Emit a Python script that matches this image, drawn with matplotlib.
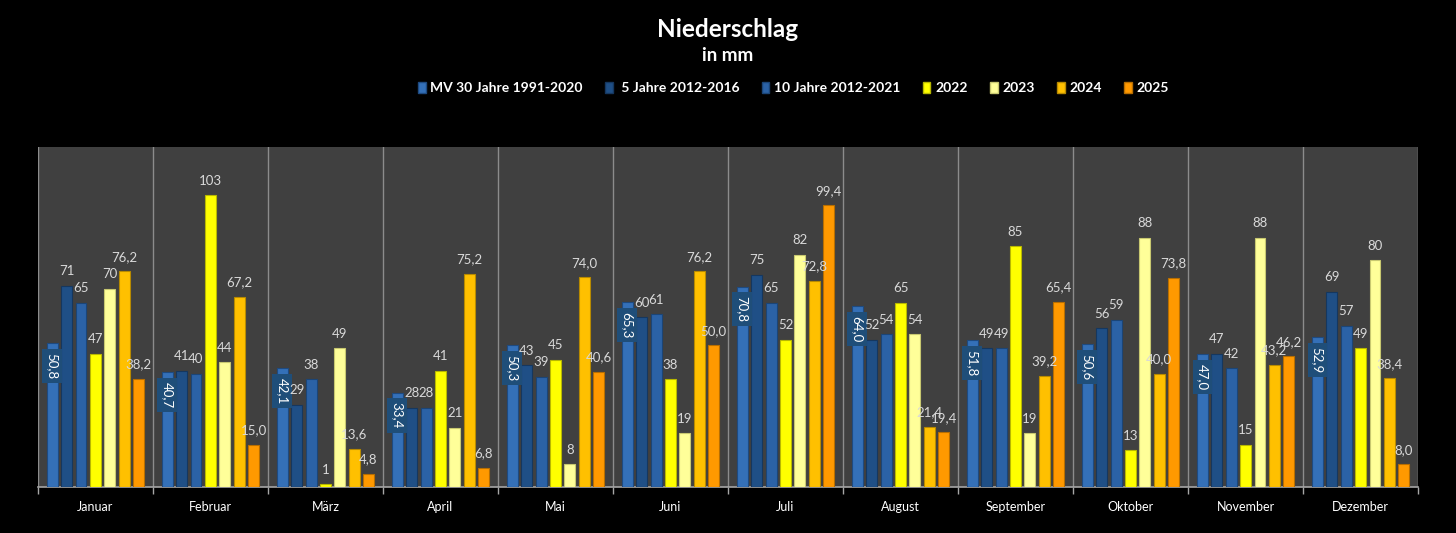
import numpy as np
import matplotlib.pyplot as plt
from matplotlib.patches import Patch

plt.rcParams['font.family'] = ['Lato', 'DejaVu Sans']

# Daten (Niederschlag in mm)
monate = ['Januar', 'Februar', 'März', 'April', 'Mai', 'Juni', 'Juli',
          'August', 'September', 'Oktober', 'November', 'Dezember']
mv30 = [50.8, 40.7, 42.1, 33.4, 50.3, 65.3, 70.8, 64.0, 51.8, 50.6, 47.0, 52.9]
j5 = [71, 41, 29, 28, 43, 60, 75, 52, 49, 56, 47, 69]
j10 = [65, 40, 38, 28, 39, 61, 65, 54, 49, 59, 42, 57]
y2022 = [47, 103, 1, 41, 45, 38, 52, 65, 85, 13, 15, 49]
y2023 = [70, 44, 49, 21, 8, 19, 82, 54, 19, 88, 88, 80]
y2024 = [76.2, 67.2, 13.6, 75.2, 74.0, 76.2, 72.8, 21.4, 39.2, 40.0, 43.2, 38.4]
y2025 = [38.2, 15.0, 4.8, 6.8, 40.6, 50.0, 99.4, 19.4, 65.4, 73.8, 46.2, 8.0]

labels = ['MV 30 Jahre 1991-2020', ' 5 Jahre 2012-2016', '10 Jahre 2012-2021',
          '2022', '2023', '2024', '2025']
serien = [mv30, j5, j10, y2022, y2023, y2024, y2025]
farben = ['#3470B8', '#1F4F86', '#2B62A6', '#FFFF00', '#FFFF99', '#FFC000', '#FF9900']
kanten = ['#1E4A80', '#15375F', '#1B4577', '#B8B800', '#C8C870', '#B88A00', '#B86E00']
dezimal = [True, False, False, False, False, True, True]

fig = plt.figure(figsize=(14.56, 5.33), dpi=100, facecolor='black')
ax = fig.add_axes([0.026, 0.086, 0.948, 0.638])
ax.set_facecolor('#404040')

x = np.arange(len(monate))
step = 0.125
width = 0.095
n = len(serien)

for i, (vals, fc, ec, dec) in enumerate(zip(serien, farben, kanten, dezimal)):
    pos = x + (i - (n - 1) / 2) * step
    ax.bar(pos, vals, width=width, color=fc, edgecolor=ec, linewidth=0.8, zorder=3)
    for p, v in zip(pos, vals):
        txt = f'{v:.1f}'.replace('.', ',') if dec else f'{v:.0f}'
        if i == 0:
            ax.text(p, v - 3.5, txt, rotation=270, ha='center', va='top',
                    color='white', fontsize=9.5, zorder=5,
                    bbox=dict(boxstyle='square,pad=0.3', fc='#1F4E79', ec='none'))
        else:
            ax.text(p, v + 3, txt, ha='center', va='bottom', color='#D9D9D9',
                    fontsize=9.5, zorder=5)

ax.set_xlim(-0.5, len(monate) - 0.5)
ax.set_ylim(0, 120)
ax.set_yticks([])
ax.set_xticks(x)
ax.set_xticklabels(monate, color='white', fontsize=9)
ax.tick_params(axis='x', length=0, pad=10)
ax.set_xticks(np.arange(-0.5, len(monate)), minor=True)
ax.tick_params(axis='x', which='minor', length=5, color='#A6A6A6', width=1)
ax.grid(True, axis='x', which='minor', color='#8C8C8C', linewidth=1, zorder=1)
for s in ['top', 'right', 'left']:
    ax.spines[s].set_visible(False)
ax.spines['bottom'].set_color('#A6A6A6')
ax.spines['bottom'].set_linewidth(1.2)

fig.text(0.5, 0.945, 'Niederschlag', ha='center', va='center', color='white',
         fontsize=17.5, fontweight='bold')
fig.text(0.5, 0.895, 'in mm', ha='center', va='center', color='white',
         fontsize=13.5, fontweight='bold')

handles = [Patch(facecolor=fc, edgecolor=ec) for fc, ec in zip(farben, kanten)]
leg = fig.legend(handles, labels, loc='center', bbox_to_anchor=(0.545, 0.835), ncol=7,
                 frameon=False, fontsize=10, handlelength=0.55, handleheight=0.8,
                 handletextpad=0.35, columnspacing=1.6)
for t in leg.get_texts():
    t.set_color('white')
    t.set_fontweight('bold')

fig.savefig('out.png', dpi=100, facecolor='black')
